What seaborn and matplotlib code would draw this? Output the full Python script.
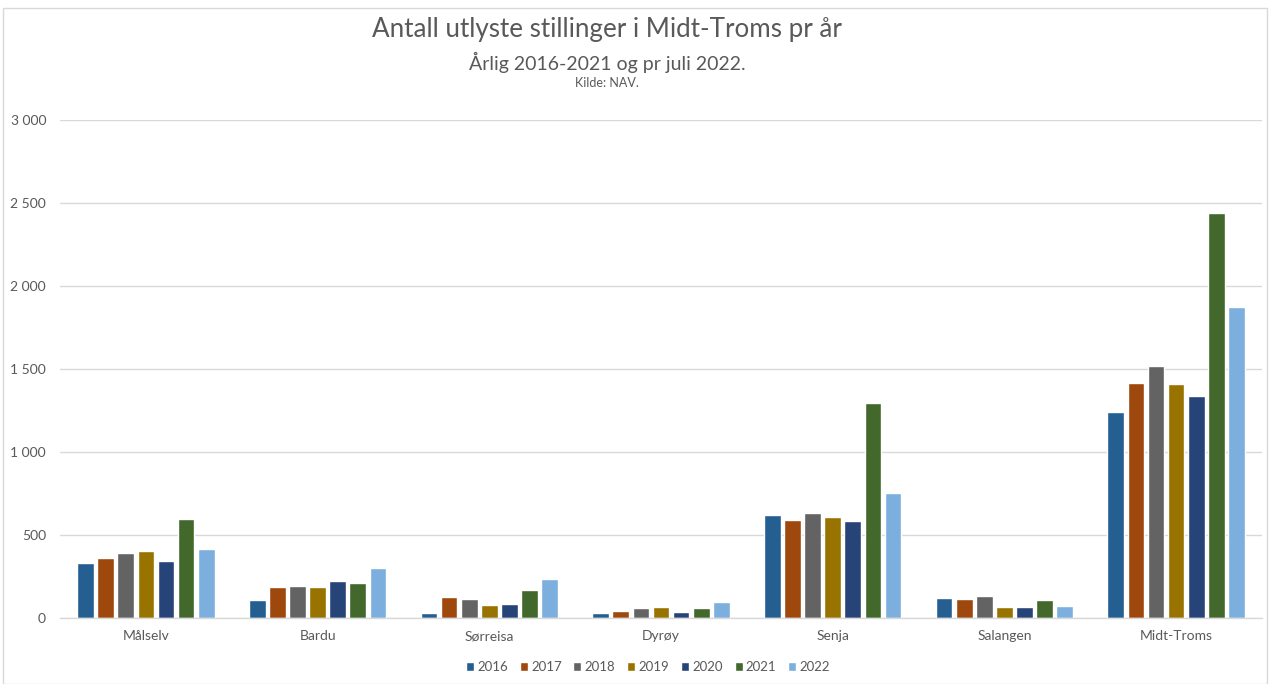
import matplotlib
matplotlib.use("Agg")
import matplotlib.pyplot as plt
import seaborn as sns
import pandas as pd
from matplotlib.ticker import FuncFormatter
from matplotlib.patches import Rectangle

categories = ["Målselv", "Bardu", "Sørreisa", "Dyrøy", "Senja", "Salangen", "Midt-Troms"]
years = ["2016", "2017", "2018", "2019", "2020", "2021", "2022"]
v2016 = [331, 108, 30, 30, 619, 120, 1243]
v2017 = [361, 189, 127, 40, 589, 113, 1416]
v2018 = [392, 193, 114, 58, 631, 131, 1520]
v2019 = [404, 189, 76, 64, 610, 66, 1410]
v2020 = [345, 223, 84, 36, 583, 66, 1337]
v2021 = [595, 213, 169, 58, 1297, 108, 2440]
v2022 = [414, 299, 235, 95, 755, 70, 1873]
series = [v2016, v2017, v2018, v2019, v2020, v2021, v2022]
colors = ["#255E91", "#9E480E", "#636363", "#997300", "#264478", "#43682B", "#7CAFDD"]

rows = []
for y, vals in zip(years, series):
    for c, v in zip(categories, vals):
        rows.append({"Kommune": c, "År": y, "Antall": v})
df = pd.DataFrame(rows)

sns.set_style("white")
plt.rcParams["font.family"] = ["Lato", "DejaVu Sans"]

fig = plt.figure(figsize=(12.7, 6.84), dpi=100)
ax = fig.add_axes([60/1270, 1-618/684, (1262-60)/1270, (618-120)/684])

sns.barplot(data=df, x="Kommune", y="Antall", hue="År", order=categories,
            hue_order=years, palette=colors, width=0.82, gap=0.17,
            saturation=1, ax=ax, legend=True)

ax.set_ylim(0, 3000)
ax.set_xlim(-0.5, len(categories) - 0.5)
ax.set_yticks(range(0, 3001, 500))
ax.yaxis.set_major_formatter(FuncFormatter(lambda v, p: f"{int(v):,}".replace(",", " ")))
ax.grid(axis="y", color="#d9d9d9", linewidth=1)
ax.set_axisbelow(True)
for s in ["top", "right", "left"]:
    ax.spines[s].set_visible(False)
ax.spines["bottom"].set_color("#d9d9d9")
ax.spines["bottom"].set_linewidth(1)
ax.tick_params(axis="both", length=0, labelsize=10, labelcolor="#595959")
ax.tick_params(axis="y", pad=10)
ax.tick_params(axis="x", pad=9)
ax.set_xlabel("")
ax.set_ylabel("")

leg = ax.legend(loc="center", bbox_to_anchor=(648/1270, 1-667/684), bbox_transform=fig.transFigure,
                ncol=7, frameon=False,
                fontsize=9.5, handlelength=0.6, handleheight=0.6, handletextpad=0.25,
                columnspacing=0.9, labelcolor="#595959")

cx = 607/1270
fig.text(cx, 1-30/684, "Antall utlyste stillinger i Midt-Troms pr år", ha="center", va="center",
         fontsize=18.7, color="#595959")
fig.text(cx, 1-62/684, "Årlig 2016-2021 og pr juli 2022.", ha="center", va="center",
         fontsize=14, color="#595959")
fig.text(cx, 1-83/684, "Kilde: NAV.", ha="center", va="center", fontsize=9, color="#595959")

fig.patches.append(Rectangle((3/1270, 0), 1 - 6/1270, 1 - 8/684, transform=fig.transFigure,
                             fill=False, edgecolor="#d9d9d9", linewidth=1))

fig.savefig("out.png", dpi=100)
